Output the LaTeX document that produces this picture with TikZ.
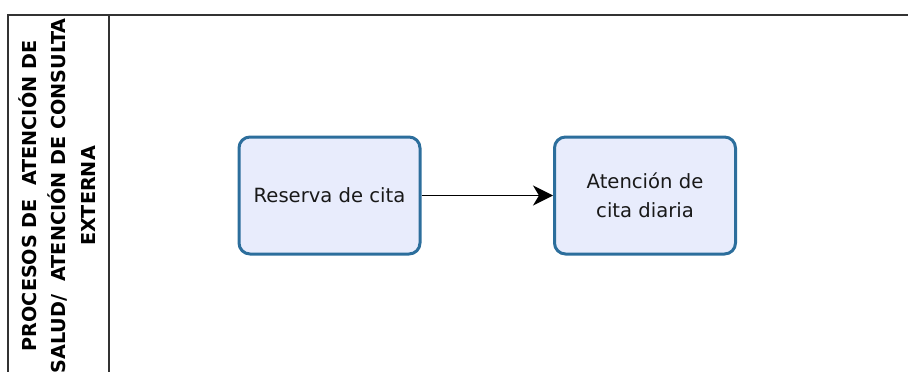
\documentclass[tikz,border=0pt]{standalone}
\usepackage{fontspec}
\setmainfont{DejaVu Sans}
\usetikzlibrary{arrows.meta}
\definecolor{boxline}{HTML}{2C6E9C}
\definecolor{boxfill}{HTML}{E8ECFC}
\definecolor{frameline}{HTML}{333333}
\begin{document}
\begin{tikzpicture}[x=1pt,y=-1pt,
  lanerule/.style={draw=frameline,line width=2.2pt},
  procbox/.style={draw=boxline,fill=boxfill,line width=3pt,rounded corners=11pt,
    minimum width=181pt,minimum height=117pt,align=center,inner sep=2pt,
    font=\fontsize{19.6}{29}\selectfont,text=black!90},
  lanelabel/.style={rotate=90,align=center,font=\fontsize{19.2}{29.5}\selectfont\bfseries},
  flow/.style={draw=black,line width=1.6pt,-{Stealth[length=20pt,width=20pt,inset=6pt]}}]
\useasboundingbox (0,0) rectangle (908,372);
\coordinate (tl) at (8,15);
\coordinate (tr) at (910,15);
\coordinate (bl) at (8,374);
\coordinate (dt) at (109,15);
\coordinate (db) at (109,374);
\draw[lanerule] (tr) -- (tl) -- (bl);
\draw[lanerule] (dt) -- (db);
\node[lanelabel] (lane) at (57,196) {PROCESOS DE\ \ ATENCIÓN DE\\SALUD/\ \ ATENCIÓN DE CONSULTA\\EXTERNA};
\node[procbox] (reserva) at (329.5,195.5) {Reserva de cita};
\node[procbox] (atencion) at (645,195.5) {Atención de\\cita diaria};
\draw[flow] (reserva) -- (atencion);
\end{tikzpicture}
\end{document}
